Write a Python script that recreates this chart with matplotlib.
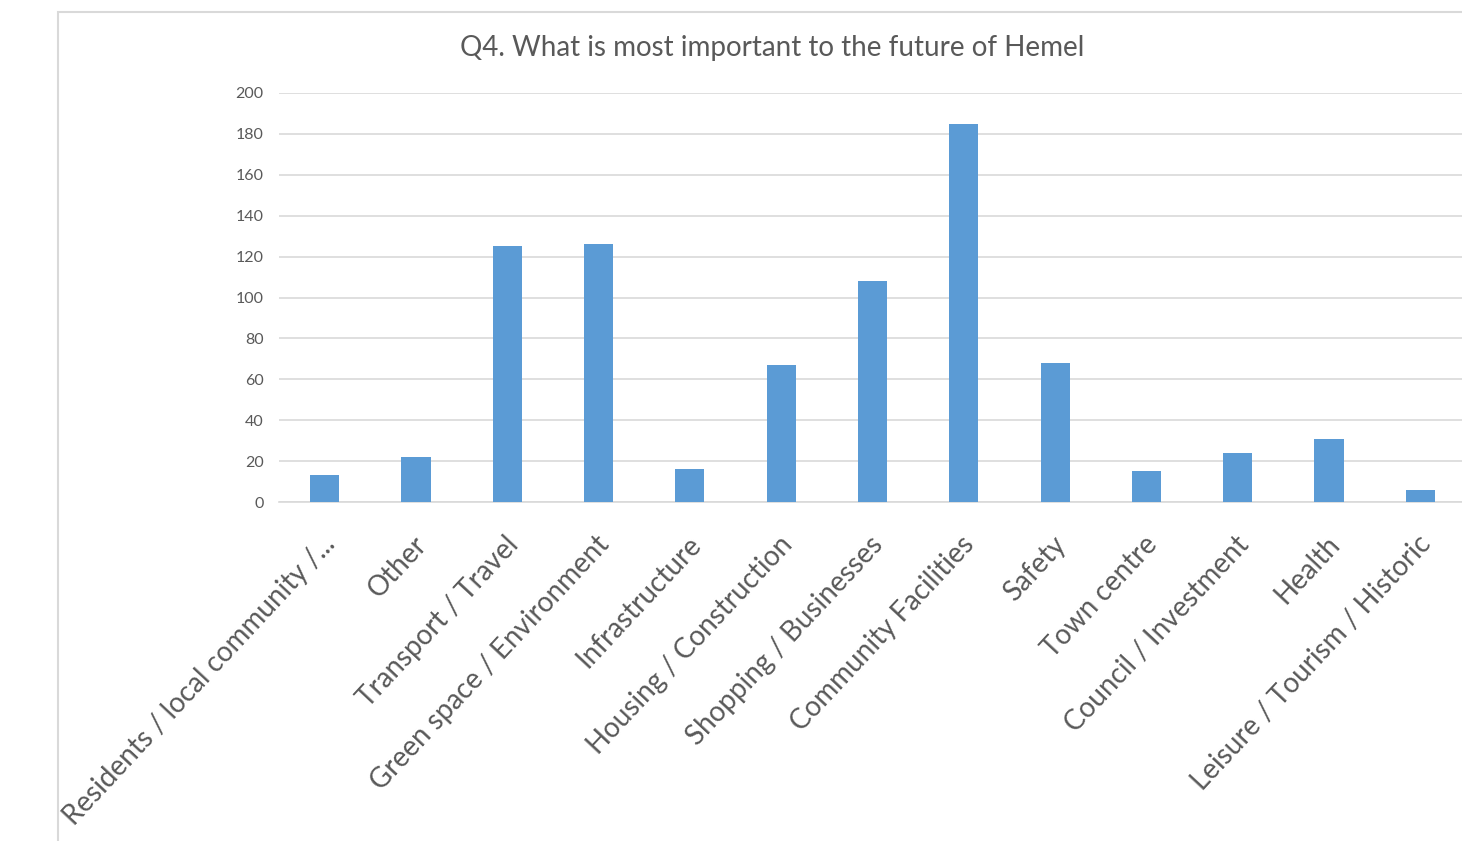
import matplotlib
matplotlib.use("Agg")
import matplotlib.pyplot as plt
from matplotlib.patches import Rectangle
from matplotlib.transforms import ScaledTranslation

categories = [
    "Residents / local community /...", "Other", "Transport / Travel",
    "Green space / Environment", "Infrastructure", "Housing / Construction",
    "Shopping / Businesses", "Community Facilities", "Safety", "Town centre",
    "Council / Investment", "Health", "Leisure / Tourism / Historic",
]
counts = [13, 22, 125, 126, 16, 67, 108, 185, 68, 15, 24, 31, 6]
y_ticks = list(range(0, 201, 20))

W, H = 1462, 841
text_col = "#595959"
plt.rcParams["font.family"] = ["Lato", "DejaVu Sans"]

fig = plt.figure(figsize=(W / 100, H / 100), dpi=100)

# chart frame (only left and top edges visible in the crop)
fig.patches.append(Rectangle((58 / W, -0.5), 2.0, 1.5 - 12 / H,
                             transform=fig.transFigure, fill=False,
                             edgecolor="#d9d9d9", linewidth=1.5))

ax = fig.add_axes([279 / W, 1 - 502 / H, (1466 - 279) / W, (502 - 93) / H])
x = list(range(len(categories)))
ax.bar(x, counts, width=0.32, color="#5B9BD5", zorder=3)
ax.set_xlim(-0.5, len(categories) - 0.5)
ax.set_ylim(0, 200)
ax.set_yticks(y_ticks)
ax.set_yticklabels([str(v) for v in y_ticks], fontsize=11.5, color=text_col)
ax.yaxis.grid(True, color="#d9d9d9", linewidth=1.2, zorder=0)
ax.tick_params(axis="y", length=0, pad=11)
ax.tick_params(axis="x", length=0, pad=21)
ax.set_xticks(x)
ax.set_xticklabels(categories, rotation=47, ha="right", rotation_mode="anchor",
                   fontsize=20, color=text_col)
shift = ScaledTranslation(-3 / 100, 0, fig.dpi_scale_trans)
for lab in ax.get_xticklabels():
    lab.set_transform(lab.get_transform() + shift)
for s in ["left", "right", "top"]:
    ax.spines[s].set_visible(False)
ax.spines["bottom"].set_color("#d9d9d9")
ax.spines["bottom"].set_linewidth(1.2)

fig.text(772 / W, 1 - 48 / H, "Q4. What is most important to the future of Hemel",
         ha="center", va="center", fontsize=20, color=text_col)

fig.savefig("out.png", dpi=100)
